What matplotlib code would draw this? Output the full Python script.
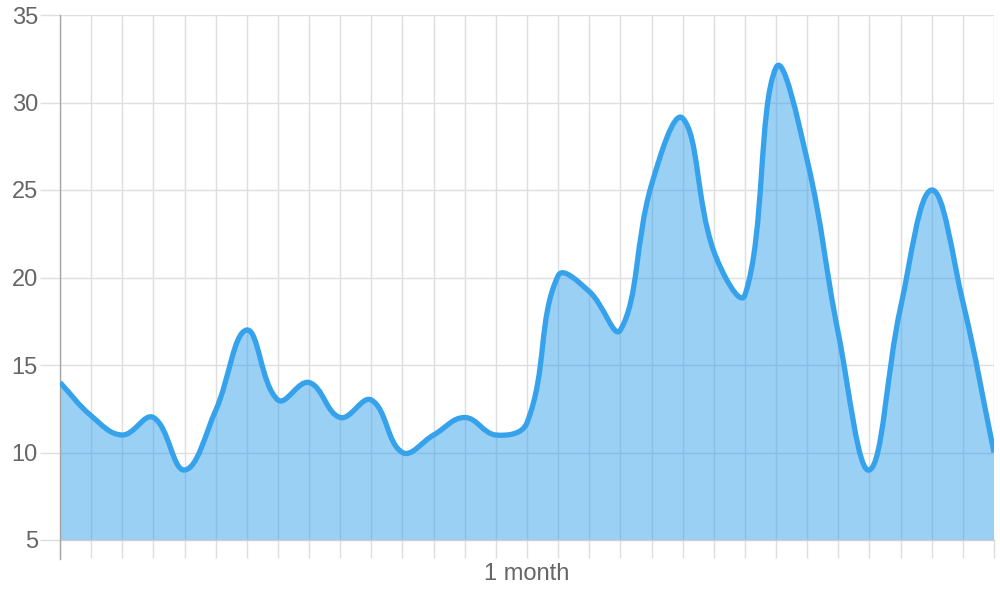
import numpy as np
import matplotlib
matplotlib.use("Agg")
import matplotlib.pyplot as plt
from matplotlib.path import Path
from matplotlib.patches import PathPatch

# daily values over one month
days = list(range(31))
values = [14, 12.1, 11, 12, 9, 12.4, 17, 13, 14, 12,
          13, 10, 11, 12, 11, 11.7, 20.1, 19.2, 17, 25.3,
          29.1, 21.5, 19, 32, 26.7, 16.8, 9, 18.3, 25, 18.6,
          10]
yticks = [5, 10, 15, 20, 25, 30, 35]
xlabel = "1 month"

LINE = "#36a2eb"
GRID = "#dedede"
TEXT = "#666666"

plt.rcParams["font.family"] = ["Liberation Sans", "DejaVu Sans"]

fig = plt.figure(figsize=(10, 6), dpi=100)
ax = fig.add_axes([0.060, 0.100, 0.934, 0.875])
ax.set_xlim(days[0], days[-1])
ax.set_ylim(yticks[0], yticks[-1])


def spline_path(ax, xs, ys, tension=0.4):
    # chart.js style bezier spline, control points weighted by pixel distances
    pts = ax.transData.transform(np.column_stack([xs, ys]))
    n = len(pts)
    cp_prev = pts.copy()
    cp_next = pts.copy()
    for i in range(n):
        prev = pts[i - 1] if i > 0 else pts[i]
        cur = pts[i]
        nxt = pts[i + 1] if i < n - 1 else pts[i]
        d01 = np.hypot(*(cur - prev))
        d12 = np.hypot(*(nxt - cur))
        tot = d01 + d12
        s01 = d01 / tot if tot else 0
        s12 = d12 / tot if tot else 0
        cp_prev[i] = cur - tension * s01 * (nxt - prev)
        cp_next[i] = cur + tension * s12 * (nxt - prev)
    verts = [pts[0]]
    codes = [Path.MOVETO]
    for i in range(1, n):
        verts += [cp_next[i - 1], cp_prev[i], pts[i]]
        codes += [Path.CURVE4] * 3
    inv = ax.transData.inverted()
    return inv.transform(np.array(verts)), codes


verts, codes = spline_path(ax, days, values)

# area under the curve
fill_verts = np.vstack([verts, [[days[-1], yticks[0]], [days[0], yticks[0]], verts[0]]])
fill_codes = codes + [Path.LINETO, Path.LINETO, Path.CLOSEPOLY]
ax.add_patch(PathPatch(Path(fill_verts, fill_codes), facecolor=LINE, alpha=0.5,
                       edgecolor="none", zorder=2))

# the line itself
ax.add_patch(PathPatch(Path(verts, codes), facecolor="none", edgecolor=LINE,
                       linewidth=3.8, capstyle="butt", joinstyle="round", zorder=3))

# grid and axes
ax.set_xticks(days)
ax.set_xticklabels([])
ax.set_yticks(yticks)
ax.set_yticklabels([str(v) for v in yticks])
ax.grid(True, color=GRID, linewidth=1.0)
ax.set_axisbelow(True)
ax.tick_params(axis="x", length=13, width=1.0, color=GRID)
ax.tick_params(axis="y", length=14.4, width=1.0, color=GRID, pad=1.5,
               labelsize=17, labelcolor=TEXT)

for side in ["top", "right"]:
    ax.spines[side].set_visible(False)
ax.spines["left"].set_color("#a6a6a6")
ax.spines["left"].set_linewidth(1.0)
ax.spines["left"].set_bounds(yticks[0], yticks[-1])
ax.spines["bottom"].set_color("#cfcfcf")
ax.spines["bottom"].set_linewidth(1.0)

# left axis line also runs down through the tick area
ax.plot([0, 0], [0, -0.036], transform=ax.transAxes, color="#a6a6a6",
        linewidth=1.0, clip_on=False, zorder=4)

fig.text(0.527, 1 - 574 / 600, xlabel, ha="center", va="center",
         fontsize=17, color=TEXT)

fig.savefig("out.png", dpi=100)
